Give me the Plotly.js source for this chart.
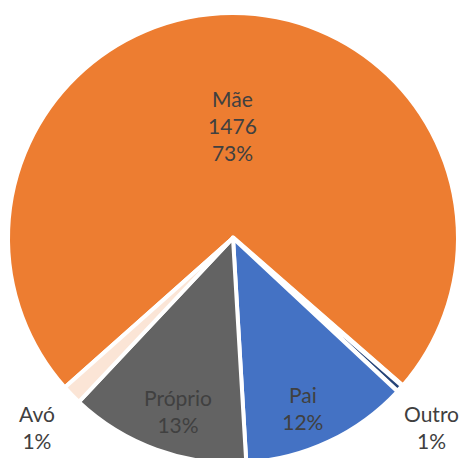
<!DOCTYPE html>
<html>
<head>
<meta charset="utf-8">
<script src="https://cdn.plot.ly/plotly-3.0.1.min.js"></script>
<style>
    html, body { margin: 0; padding: 0; background: #fff; overflow: hidden; }
    #chart { width: 464px; height: 465px; }
</style>
</head>
<body>
<div id="chart"></div>
<script>
    // Slice order follows the drawing order (clockwise, starting at Mãe)
    const labels = ["Mãe", "Outro", "Pai", "Próprio", "Avó"];
    const counts = [1476, 11, 245, 262, 29];
    const showCount = [true, false, false, false, false];

    const sliceColors = ["#ED7D31", "#264478", "#4472C4", "#636363", "#FBE5D6"];

    (function () {
        const el = (id) => document.getElementById(id);
        const total = counts.reduce((a, b) => a + b, 0);
        const isSmall = (i) => counts[i] / total < 0.02;
        const LABEL_FONT = { family: "Lato, 'Open Sans', sans-serif", size: 21, color: "#404040" };

        // Excel parks the two tiny slices' labels below the rim, one per side
        const outsideSpots = { "Avó": [0.064, 0.08], "Outro": [0.942, 0.08] };

        function smallLabelNotes() {
            return labels.map((label, i) => {
                if (!isSmall(i)) return null;
                const [x, y] = outsideSpots[label];
                return {
                    xref: "paper", yref: "paper", x: x, y: y,
                    xanchor: "center", yanchor: "middle",
                    text: `${label}<br>${Math.round(counts[i] / total * 100)}%`,
                    showarrow: false,
                    font: LABEL_FONT
                };
            }).filter(Boolean);
        }

        function renderPie() {
            // blank lines on top nudge Pai / Próprio down, closer to where Excel put them
            const templates = labels.map((label, i) => {
                if (showCount[i]) return "%{label}<br>%{value}<br>%{percent:.0%}";
                if (isSmall(i)) return "";
                return "<span style='font-size:10px'>\u00a0</span><br>\u00a0<br>%{label}<br>%{percent:.0%}";
            });

            Plotly.newPlot(el("chart"), [{
                type: "pie",
                labels: labels,
                values: counts,
                sort: false,
                direction: "clockwise",
                rotation: 228.4,
                texttemplate: templates,
                textposition: "inside",
                insidetextorientation: "horizontal",
                textfont: LABEL_FONT,
                marker: {
                    colors: sliceColors,
                    line: { color: "#ffffff", width: [4, 5, 4, 4, 4] }
                },
                hoverinfo: "label+value+percent"
            }], {
                width: 464,
                height: 465,
                margin: { t: 13, l: 8, r: 6, b: 2 },
                showlegend: false,
                paper_bgcolor: "#ffffff",
                annotations: smallLabelNotes()
            }, { displayModeBar: false, staticPlot: true });
        }

        window.addEventListener("DOMContentLoaded", renderPie);
    })();
</script>
</body>
</html>
